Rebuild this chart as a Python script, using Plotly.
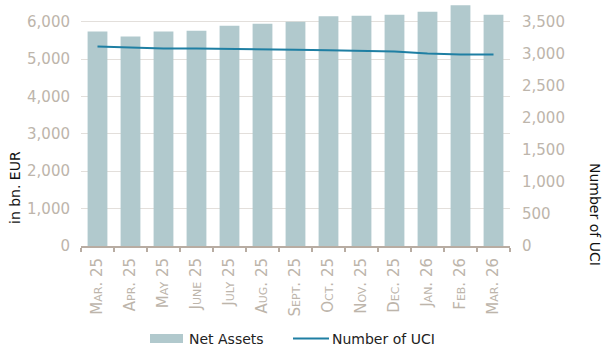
import plotly.graph_objects as go

months = ["Mar. 25", "Apr. 25", "May 25", "June 25", "July 25", "Aug. 25", "Sept. 25",
          "Oct. 25", "Nov. 25", "Dec. 25", "Jan. 26", "Feb. 26", "Mar. 26"]
net_assets = [5735, 5607, 5735, 5760, 5893, 5947, 6000, 6143, 6161, 6188, 6268, 6437, 6188]
number_uci = [3114, 3098, 3083, 3083, 3073, 3062, 3062, 3055, 3047, 3035, 3005, 2990, 2990]

left_ticks = [0, 1000, 2000, 3000, 4000, 5000, 6000]
right_ticks = [0, 500, 1000, 1500, 2000, 2500, 3000, 3500]

FONT = "DejaVu Sans"
TICKCOL = "#bdb5ab"
BARCOL = "#b1c9cd"
LINECOL = "#1f7fa3"

# pixel -> paper helpers for layout (plot area: x 81..510, y 3..246)
L, R, T, B = 81, 510, 3, 246
def px(x):
    return (x - L) / (R - L)
def py(y):
    return (B - y) / (B - T)

fig = go.Figure()
fig.add_trace(go.Bar(x=months, y=net_assets, name="Net Assets",
                     marker=dict(color=BARCOL, line=dict(width=0)), yaxis="y"))
fig.add_trace(go.Scatter(x=months, y=number_uci, name="Number of UCI", mode="lines",
                         line=dict(color=LINECOL, width=2), yaxis="y2"))

fig.update_layout(
    width=607, height=351,
    margin=dict(l=L, r=607 - R, t=T, b=351 - B),
    paper_bgcolor="white", plot_bgcolor="white",
    bargap=0.4,
    showlegend=False,
    font=dict(family=FONT, size=14, color="#222"),
    xaxis=dict(
        automargin=False,
        tickangle=-90, tickfont=dict(family=FONT, size=15, color=TICKCOL, variant="small-caps"),
        showline=True, linecolor="#b8aca2", linewidth=2,
        ticks="outside", tickson="boundaries", ticklen=4, tickcolor="#b8aca2", tickwidth=2,
        ticklabelstandoff=4,
        showgrid=False,
    ),
    yaxis=dict(
        automargin=False,
        range=[0, 6500], tickvals=left_ticks, tickformat=",",
        tickfont=dict(family=FONT, size=15, color=TICKCOL),
        ticklabelstandoff=10,
        showgrid=True, gridcolor="#e3dfdb", gridwidth=1, zeroline=False, showline=False,
    ),
    yaxis2=dict(
        automargin=False,
        range=[0, 6500 * 3500 / 6000], tickvals=right_ticks, tickformat=",",
        overlaying="y", side="right", showgrid=False, zeroline=False, showline=False,
        tickfont=dict(family=FONT, size=15, color=TICKCOL),
        ticklabelstandoff=11,
    ),
    annotations=[
        dict(text="in bn. EUR", xref="paper", yref="paper", x=px(15), y=py(188),
             xanchor="center", yanchor="middle", textangle=-90, showarrow=False,
             font=dict(family=FONT, size=14, color="#111")),
        dict(text="Number of UCI", xref="paper", yref="paper", x=px(595), y=py(214),
             xanchor="center", yanchor="middle", textangle=90, showarrow=False,
             font=dict(family=FONT, size=14, color="#111")),
        dict(text="Net Assets", xref="paper", yref="paper", x=px(187), y=py(338.5),
             xanchor="left", yanchor="middle", showarrow=False,
             font=dict(family=FONT, size=14, color="#222")),
        dict(text="Number of UCI", xref="paper", yref="paper", x=px(330), y=py(338.5),
             xanchor="left", yanchor="middle", showarrow=False,
             font=dict(family=FONT, size=14, color="#222")),
    ],
    shapes=[
        dict(type="rect", xref="paper", yref="paper", x0=px(150), x1=px(183),
             y0=py(343), y1=py(334), fillcolor=BARCOL, line=dict(width=0)),
        dict(type="line", xref="paper", yref="paper", x0=px(293), x1=px(329),
             y0=py(338.5), y1=py(338.5), line=dict(color=LINECOL, width=2)),
    ],
)

fig.write_html("out.html")
